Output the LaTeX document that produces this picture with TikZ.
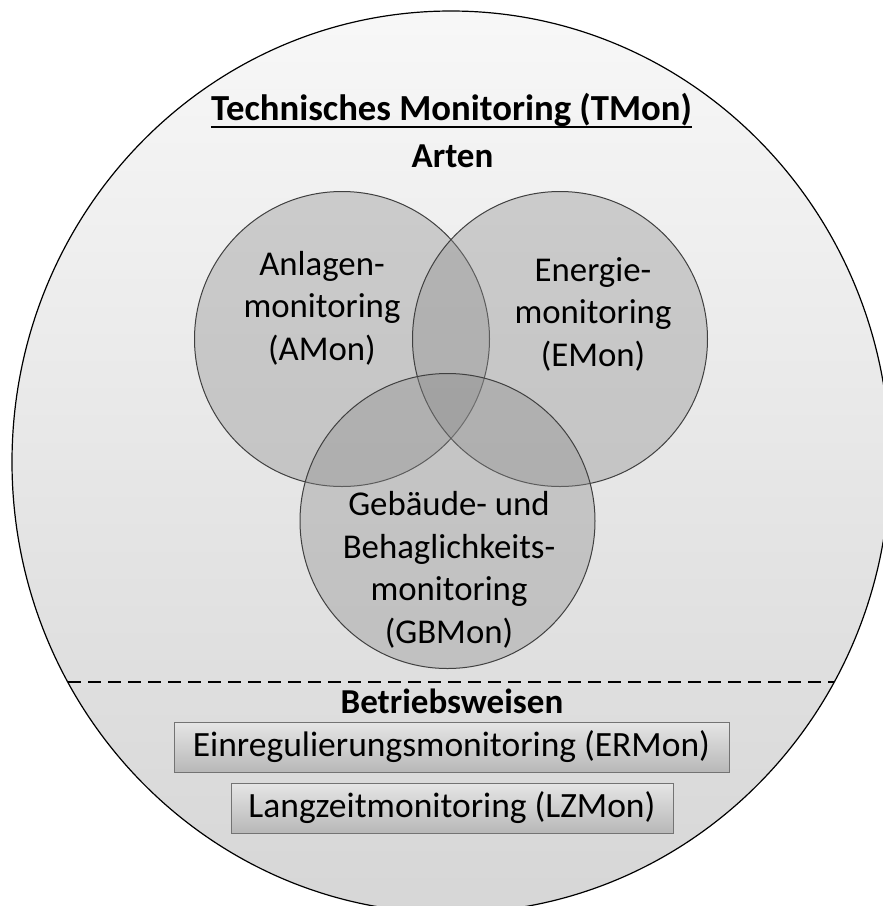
\documentclass[tikz,border=0pt]{standalone}
\usepackage{fontspec}
\setmainfont{Carlito}
\usetikzlibrary{calc}

\tikzset{
  venn/.style={fill=black!45,fill opacity=0.37,draw=black!75,line width=1pt},
  head/.style={font=\bfseries\fontsize{35}{42}\selectfont,anchor=base,inner sep=0pt},
  lbl/.style={font=\fontsize{34.8}{42.5}\selectfont,align=center,inner sep=0pt},
  modebox/.style={draw=black!55,top color=black!10,bottom color=black!28,
    minimum height=50,inner sep=0pt,font=\fontsize{35.5}{42.5}\selectfont},
}

\begin{document}
\begin{tikzpicture}[x=1pt,y=-1pt]
\useasboundingbox (0,0) rectangle (883,906);
\clip (0,0) rectangle (883,906);
\shadedraw[top color=black!3,bottom color=black!16,draw=black,line width=1.2] (451,462) ellipse [x radius=439,y radius=451];

\node[head,font=\bfseries\fontsize{36.7}{42}\selectfont] (title) at (451.5,120) {Technisches Monitoring (TMon)};
\draw[line width=2.8] ($(title.base west)+(0,7)$) -- ($(title.base east)+(0,7)$);
\node[head] (arten) at (452.5,167) {Arten};

\draw[venn] (342,339) circle (147.5);
\draw[venn] (560,339) circle (147.5);
\draw[venn] (447.5,521) circle (147.5);

\node[lbl] (amon) at (322,308) {Anlagen-\\monitoring\\(AMon)};
\node[lbl] (emon) at (593,314) {Energie-\\monitoring\\(EMon)};
\node[lbl] (gbmon) at (449,570) {Gebäude- und\\Behaglichkeits-\\monitoring\\(GBMon)};

\draw[line width=1.8,dash pattern=on 13pt off 7pt] (68,682) -- (834,682);

\node[head] (betrieb) at (452,713) {Betriebsweisen};
\node[modebox,minimum width=555] (ermon) at (451.5,747) {Einregulierungsmonitoring (ERMon)};
\node[modebox,minimum width=442] (lzmon) at (452,808) {Langzeitmonitoring (LZMon)};
\end{tikzpicture}
\end{document}
